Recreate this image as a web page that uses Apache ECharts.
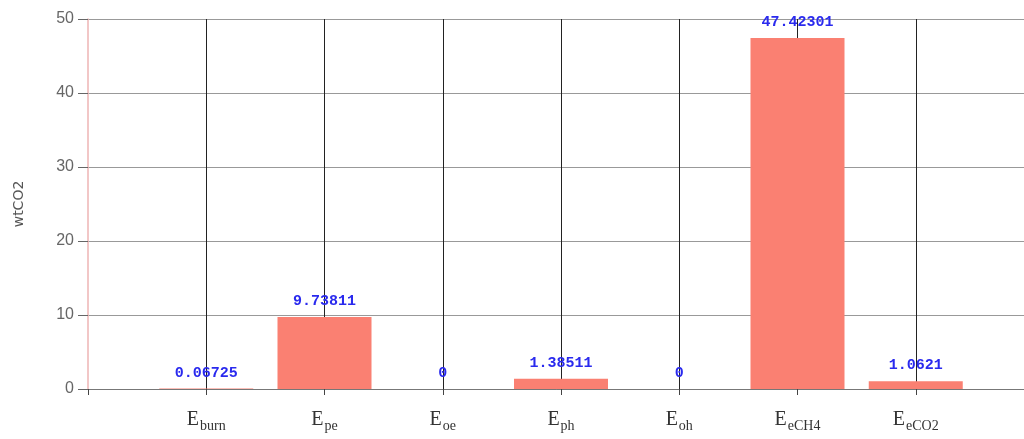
<!DOCTYPE html>
<html><head><meta charset="utf-8">
<script src="https://cdn.jsdelivr.net/npm/echarts@6/dist/echarts.min.js"></script>
<style>html,body{margin:0;padding:0;background:#fff}#c{width:1024px;height:439px}</style>
</head><body><div id="c"></div>
<script>
var categories = ['', 'Eburn', 'Epe', 'Eoe', 'Eph', 'Eoh', 'EeCH4', 'EeCO2', ''];
var values = [null, 0.06725, 9.73811, 0, 1.38511, 0, 47.42301, 1.0621, null];
var yTicks = [0, 10, 20, 30, 40, 50];
var yName = 'wtCO2';

var chart = echarts.init(document.getElementById('c'));
chart.setOption({
  animation: false,
  grid: {left: 88, width: 946, top: 19, height: 370, outerBoundsMode: 'none', containLabel: false},
  xAxis: {
    type: 'category', data: categories, boundaryGap: false,
    axisLine: {lineStyle: {color: '#777'}},
    axisTick: {show: true, length: 6, lineStyle: {color: '#444'}},
    splitLine: {show: true, interval: function (i) { return i !== 0; }, lineStyle: {color: '#222', width: 1}},
    axisLabel: {
      margin: 21,
      formatter: function (v) { return v ? '{e|' + v.charAt(0) + '}{s|' + v.slice(1) + '}' : ''; },
      rich: {
        e: {fontFamily: 'Liberation Serif', fontSize: 20, color: '#333', verticalAlign: 'bottom'},
        s: {fontFamily: 'Liberation Serif', fontSize: 14, color: '#333', verticalAlign: 'bottom', padding: [0, 0, -3, 1]}
      }
    }
  },
  yAxis: {
    type: 'value', min: yTicks[0], max: yTicks[yTicks.length - 1], interval: 10,
    name: yName, nameLocation: 'middle', nameGap: 62, nameRotate: 90,
    nameTextStyle: {color: '#555', fontSize: 14, fontFamily: 'DejaVu Sans'},
    axisLine: {show: true, lineStyle: {color: '#eeb4b4', width: 1.5}},
    axisTick: {show: true, length: 10, lineStyle: {color: '#666'}},
    axisLabel: {color: '#666', fontSize: 16, margin: 14, fontFamily: 'Liberation Sans'},
    splitLine: {lineStyle: {color: '#999', width: 1.2}}
  },
  series: [{
    type: 'bar', data: values, barWidth: 94,
    itemStyle: {color: '#fa8072'},
    label: {
      show: true, position: 'top', distance: 8,
      color: '#2a2aee', fontFamily: 'Liberation Mono', fontWeight: 'bold', fontSize: 15,
      formatter: function (p) { return p.value == null ? '' : String(p.value); }
    }
  }]
});
</script></body></html>
